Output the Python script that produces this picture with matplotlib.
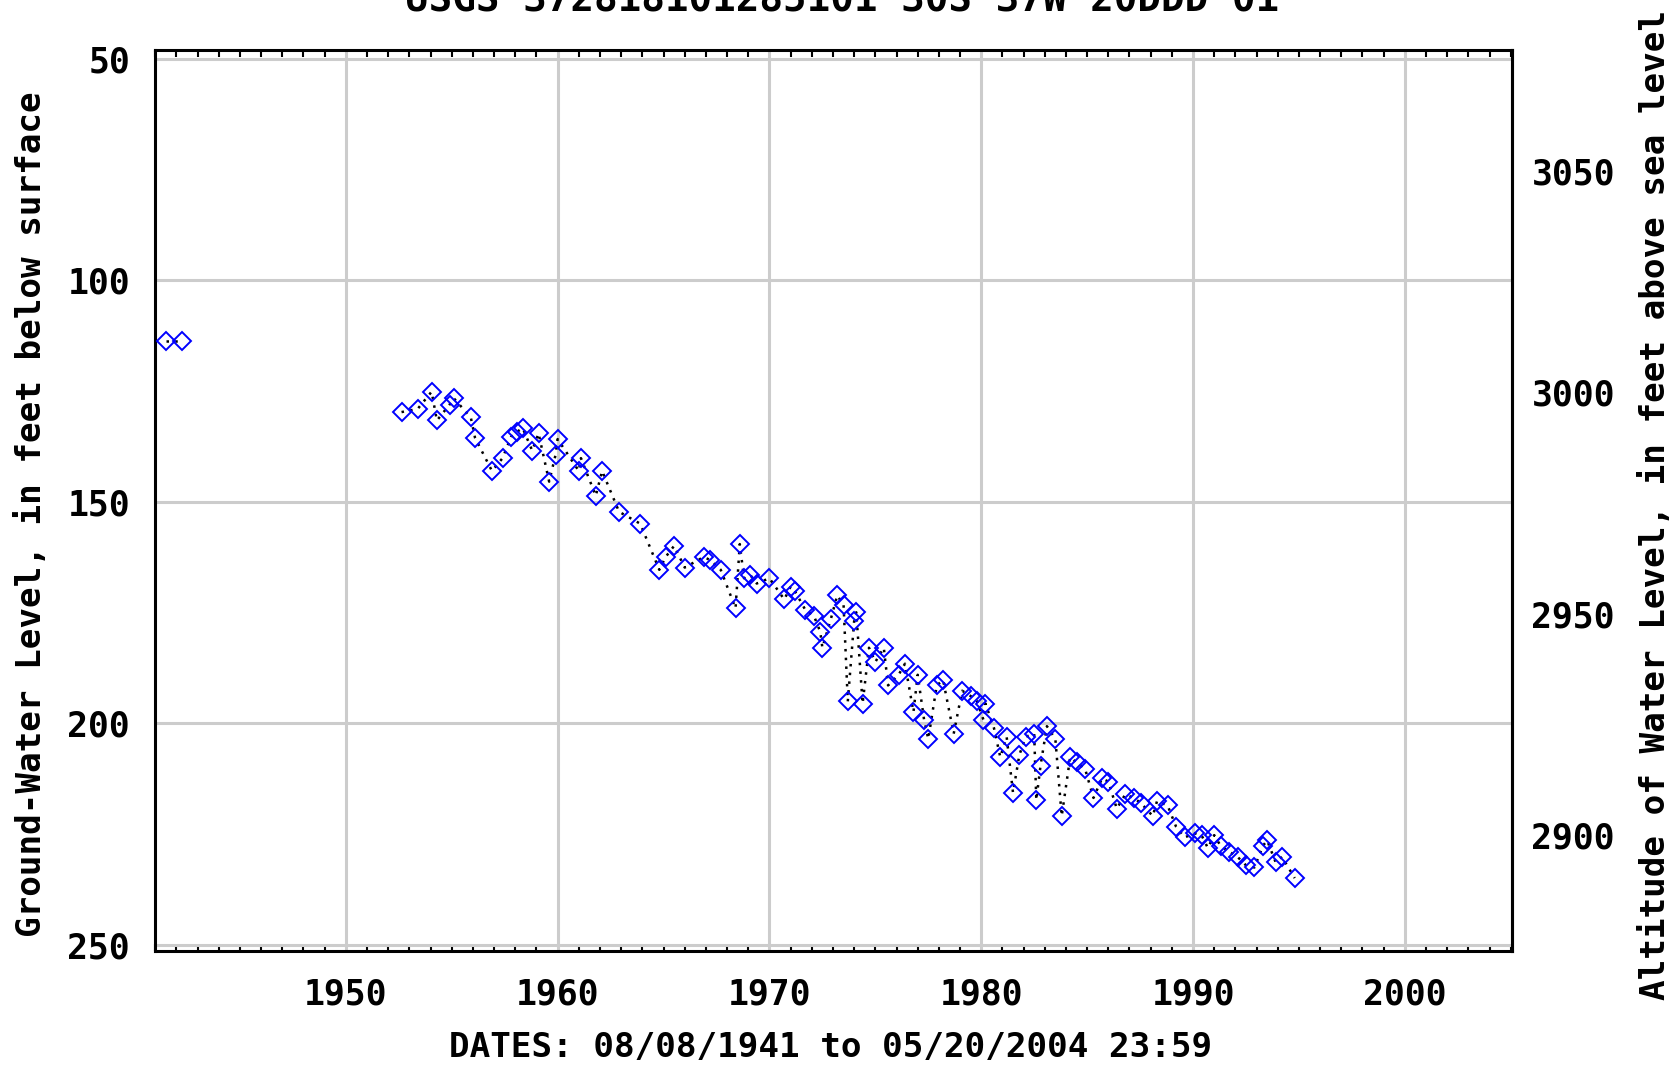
"""
Ground-water level hydrograph, USGS well 30S 37W 20DDD 01.
"""
import matplotlib
matplotlib.use('Agg')
import matplotlib.pyplot as plt
from matplotlib.ticker import MultipleLocator, FixedLocator

# decimal year, depth to water (ft below land surface)
years = [1941.5, 1942.26,
         1952.63, 1953.39, 1954.05, 1954.3, 1954.9, 1955.1, 1955.9, 1956.1,
         1956.9, 1957.4, 1957.8, 1958.1, 1958.35, 1958.8, 1959.1, 1959.6,
         1959.9, 1960.0, 1961.0, 1961.1, 1961.8, 1962.1, 1962.9, 1963.9,
         1964.8, 1965.1, 1965.5, 1966.0, 1966.9, 1967.2, 1967.7, 1968.4,
         1968.6, 1968.8, 1969.1, 1969.4, 1970.0, 1970.7, 1971.0, 1971.2,
         1971.7, 1972.1, 1972.4, 1972.5, 1972.9, 1973.2, 1973.5, 1973.7,
         1974.0, 1974.1, 1974.4, 1974.7, 1975.0, 1975.4, 1975.6, 1976.1,
         1976.4, 1976.8, 1977.0, 1977.3, 1977.5, 1977.9, 1978.2, 1978.7,
         1979.1, 1979.5, 1979.8, 1980.1, 1980.2, 1980.6, 1980.9, 1981.2,
         1981.5, 1981.8, 1982.1, 1982.5, 1982.6, 1982.8, 1983.1, 1983.5,
         1983.8, 1984.2, 1984.5, 1984.9, 1985.3, 1985.7, 1986.0, 1986.4,
         1986.8, 1987.2, 1987.55, 1988.1, 1988.3, 1988.8, 1989.2, 1989.6,
         1990.1, 1990.4, 1990.7, 1991.0, 1991.3, 1991.7, 1992.1, 1992.5,
         1992.9, 1993.3, 1993.5, 1993.9, 1994.2, 1994.8]
depth = [113.8, 113.8,
         129.8, 129.1, 125.2, 131.7, 128.1, 126.7, 131.0, 135.6,
         143.1, 140.2, 135.4, 134.2, 133.4, 138.5, 134.6, 145.5,
         139.5, 135.9, 143.1, 140.2, 148.7, 143.1, 152.3, 155.0,
         165.4, 162.5, 160.0, 164.9, 162.5, 163.2, 165.4, 174.1,
         159.6, 167.3, 166.6, 168.5, 167.3, 172.1, 169.2, 170.2,
         174.5, 175.8, 179.4, 183.0, 176.5, 171.2, 173.3, 195.1,
         177.0, 175.0, 195.6, 183.0, 186.2, 183.0, 191.5, 189.1,
         186.6, 197.5, 189.1, 199.2, 203.6, 191.5, 190.3, 202.4,
         192.7, 193.9, 195.1, 199.2, 195.6, 201.1, 207.7, 203.1,
         215.7, 207.2, 203.1, 202.4, 217.4, 209.6, 200.7, 203.6,
         221.0, 207.7, 208.9, 210.3, 216.9, 212.5, 213.2, 219.3,
         216.1, 216.9, 218.1, 221.0, 217.6, 218.6, 223.4, 225.8,
         224.9, 225.3, 228.2, 225.3, 227.7, 229.0, 230.2, 232.1,
         232.6, 227.7, 226.5, 231.4, 230.2, 235.0]

# the record has a gap between 1942 and 1952: line is not drawn across it
gap_index = 2

land_surface = 3125.3  # ft above sea level
x_ticks = [1950, 1960, 1970, 1980, 1990, 2000]
y_ticks = [50, 100, 150, 200, 250]
alt_ticks = [2900, 2950, 3000, 3050]

FONT = 'DejaVu Sans Mono'
FS = 25
FS_LAB = 24.7

fig = plt.figure(figsize=(16.8, 10.68), dpi=100)
ax = fig.add_axes([155 / 1680, 1 - 951 / 1068, (1512 - 155) / 1680, (951 - 50) / 1068])

line_style = dict(color='black', linestyle=(0, (1, 2.5)), linewidth=1.8, zorder=2)
ax.plot(years[:gap_index], depth[:gap_index], **line_style)
ax.plot(years[gap_index:], depth[gap_index:], **line_style)
ax.plot(years, depth, linestyle='none', marker='D', markersize=9,
        markerfacecolor='none', markeredgecolor='#0000ff', markeredgewidth=1.4, zorder=3)

ax.set_xlim(1940.99, 2005.06)
ax.set_ylim(251.45, 48.07)

ax.xaxis.set_major_locator(FixedLocator(x_ticks))
ax.xaxis.set_minor_locator(MultipleLocator(1))
ax.yaxis.set_major_locator(FixedLocator(y_ticks))
ax.grid(True, color='#cccccc', linewidth=2.2, zorder=0)
ax.set_axisbelow(True)

ax.tick_params(axis='x', which='major', length=0, pad=19)
ax.tick_params(axis='x', which='minor', direction='in', length=5, width=1.5,
               top=True, bottom=True)
ax.tick_params(axis='y', which='both', length=0, pad=18)
for lab in ax.get_xticklabels() + ax.get_yticklabels():
    lab.set_fontfamily(FONT)
    lab.set_fontweight('bold')
    lab.set_fontsize(FS)

for sp in ax.spines.values():
    sp.set_linewidth(2.2)
    sp.set_color('black')

sec = ax.secondary_yaxis('right', functions=(lambda d: land_surface - d,
                                             lambda a: land_surface - a))
sec.yaxis.set_major_locator(FixedLocator(alt_ticks))
sec.tick_params(length=0, pad=14)
for lab in sec.get_yticklabels():
    lab.set_fontfamily(FONT)
    lab.set_fontweight('bold')
    lab.set_fontsize(FS)
sec.spines['right'].set_linewidth(2.2)

fig.text(32 / 1680, 1 - 514 / 1068,
         'Ground-Water Level, in feet below surface', rotation=90,
         ha='center', va='center', fontsize=FS_LAB, fontweight='bold', family=FONT)
fig.text(1655 / 1680, 1 - 505 / 1068,
         'Altitude of Water Level, in feet above sea level', rotation=90,
         ha='center', va='center', fontsize=FS_LAB, fontweight='bold', family=FONT)
fig.text(831 / 1680, 1 - 1048 / 1068,
         'DATES: 08/08/1941 to 05/20/2004 23:59',
         ha='center', va='center', fontsize=FS_LAB, fontweight='bold', family=FONT)
# title sits partly above the top edge, as in the source image
fig.text(842 / 1680, 1 - 11 / 1068,
         'USGS 372818101285101 30S 37W 20DDD 01',
         ha='center', va='baseline', fontsize=28.3, fontweight='bold', family=FONT)

fig.savefig('out.png', dpi=100, facecolor='white')
